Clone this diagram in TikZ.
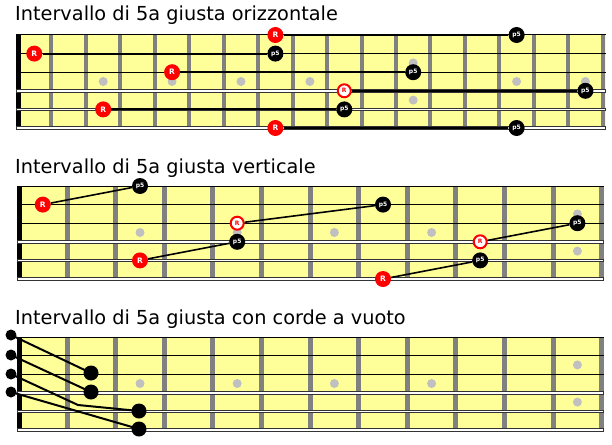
\documentclass[tikz,border=0pt]{standalone}
\usepackage{fontspec}
\setmainfont{DejaVu Sans}
\definecolor{board}{RGB}{255,255,153}
\definecolor{fretgray}{RGB}{128,128,128}
\definecolor{dotgray}{RGB}{192,192,192}
\definecolor{stringedge}{RGB}{50,50,50}
\begin{document}
\begin{tikzpicture}[x=1pt,y=-1pt,
  title/.style={anchor=base west,inner sep=0pt,font=\fontsize{19.3}{22}\selectfont},
  rnote/.style={circle,fill=red,inner sep=0pt,minimum size=16pt,text=white,font=\fontsize{7.5}{7.5}\selectfont\bfseries},
  pnote/.style={circle,fill=black,inner sep=0pt,minimum size=16pt,text=white,font=\fontsize{6}{6}\selectfont\bfseries},
  hnote/.style={circle,draw=red,line width=2pt,fill=white,inner sep=0pt,minimum size=13pt,text=red,font=\fontsize{6}{6}\selectfont\bfseries},
  link/.style={line width=2pt,black},
  link2/.style={line width=1.6pt,black},
  fmark/.style={circle,fill=dotgray,inner sep=0pt,minimum size=9pt},
  odot/.style={circle,fill=black,inner sep=0pt,minimum size=11pt},
  bdot/.style={circle,fill=black,inner sep=0pt,minimum size=15pt},
  thinstr/.style={line width=1pt,black},
  thickstr/.style={line width=3.6pt,stringedge},
  thickcore/.style={line width=1.6pt,white}
]
\fill[white] (0,0) rectangle (612,444);
\useasboundingbox (0,0) rectangle (612,444);

% ---------- titles ----------
\node[title] (t1) at (15,21) {Intervallo di 5a giusta orizzontale};
\node[title] (t2) at (15,173) {Intervallo di 5a giusta verticale};
\node[title] (t3) at (15,324) {Intervallo di 5a giusta con corde a vuoto};

% ---------- diagram 1 ----------
\fill[board] (16,35) rectangle (605.5,128);
\foreach \i in {1,...,17} \fill[fretgray] ({17+34.45*\i-2},35) rectangle ({17+34.45*\i+2},128);
\foreach \x in {103.2,172.1,241,309.9,516.6,585.4} \node[fmark] at (\x,81.5) {};
\node[fmark] at (413.2,62.9) {};
\node[fmark] at (413.2,100.1) {};
\fill[black] (16,35) rectangle (20.5,128);
\foreach \y in {35,53.6,72.2} \draw[thinstr] (16,\y) -- (605.5,\y);
\foreach \y in {90.8,109.4,128} {\draw[thickstr] (16,\y) -- (605.5,\y); \draw[thickcore] (16.8,\y) -- (604.7,\y);}

\node[rnote] (a1R) at (275.4,35) {R};
\node[pnote] (a1P) at (516.6,35) {p5};
\node[rnote] (a2R) at (34.3,53.6) {R};
\node[pnote] (a2P) at (275.4,53.6) {p5};
\node[rnote] (a3R) at (172.1,72.2) {R};
\node[pnote] (a3P) at (413.2,72.2) {p5};
\node[hnote] (a4R) at (344.3,90.8) {R};
\node[pnote] (a4P) at (585.4,90.8) {p5};
\node[rnote] (a5R) at (103.2,109.4) {R};
\node[pnote] (a5P) at (344.3,109.4) {p5};
\node[rnote] (a6R) at (275.4,128) {R};
\node[pnote] (a6P) at (516.6,128) {p5};
\foreach \k in {1,...,6} \draw[link] (a\k R) -- (a\k P);

% ---------- diagram 2 ----------
\fill[board] (17,186) rectangle (604,279);
\foreach \i in {1,...,12} \fill[fretgray] ({18.5+48.6*\i-2.5},186) rectangle ({18.5+48.6*\i+2.5},279);
\foreach \x in {140,237.2,334.4,431.6} \node[fmark] at (\x,232.5) {};
\node[fmark] at (577.4,213.9) {};
\node[fmark] at (577.4,251.1) {};
\fill[black] (17,186) rectangle (22,279);
\foreach \y in {186,204.6,223.2} \draw[thinstr] (17,\y) -- (604,\y);
\foreach \y in {241.8,260.4,279} {\draw[thickstr] (17,\y) -- (604,\y); \draw[thickcore] (17.8,\y) -- (603.2,\y);}

\node[rnote] (b1R) at (42.8,204.6) {R};
\node[pnote] (b1P) at (140,186) {p5};
\node[hnote] (b2R) at (237.2,223.2) {R};
\node[pnote] (b2P) at (383,204.6) {p5};
\node[rnote] (b3R) at (140,260.4) {R};
\node[pnote] (b3P) at (237.2,241.8) {p5};
\node[hnote] (b4R) at (480.2,241.8) {R};
\node[pnote] (b4P) at (577.4,223.2) {p5};
\node[rnote] (b5R) at (383,279) {R};
\node[pnote] (b5P) at (480.2,260.4) {p5};
\foreach \k in {1,...,5} \draw[link2] (b\k R) -- (b\k P);

% ---------- diagram 3 ----------
\fill[board] (17,337) rectangle (604,430);
\foreach \i in {1,...,12} \fill[fretgray] ({18.5+48.6*\i-2.5},337) rectangle ({18.5+48.6*\i+2.5},430);
\foreach \x in {140,237.2,334.4,431.6} \node[fmark] at (\x,383.5) {};
\node[fmark] at (577.4,364.9) {};
\node[fmark] at (577.4,402.1) {};
\fill[black] (17,337) rectangle (22,430);
\foreach \y in {337,355.6,374.2} \draw[thinstr] (17,\y) -- (604,\y);
\foreach \y in {392.8,411.4,430} {\draw[thickstr] (17,\y) -- (604,\y); \draw[thickcore] (17.8,\y) -- (603.2,\y);}

\coordinate (c1) at (11,335);
\coordinate (c2) at (11,355);
\coordinate (c3) at (11,374);
\coordinate (c4) at (11,392);
\coordinate (bend) at (78,405);
\coordinate (d1) at (91,373);
\coordinate (d2) at (91,392);
\coordinate (d3) at (139,411);
\coordinate (d4) at (139,429);
\draw[link] (c1) -- (d1);
\draw[link] (c2) -- (d2);
\draw[link] (c3) -- (bend) -- (d3);
\draw[link] (c4) -- (d4);
\node[odot] (o1) at (c1) {};
\node[odot] (o2) at (c2) {};
\node[odot] (o3) at (c3) {};
\node[odot] (o4) at (c4) {};
\node[bdot] (e1) at (d1) {};
\node[bdot] (e2) at (d2) {};
\node[bdot] (e3) at (d3) {};
\node[bdot] (e4) at (d4) {};
\end{tikzpicture}
\end{document}
